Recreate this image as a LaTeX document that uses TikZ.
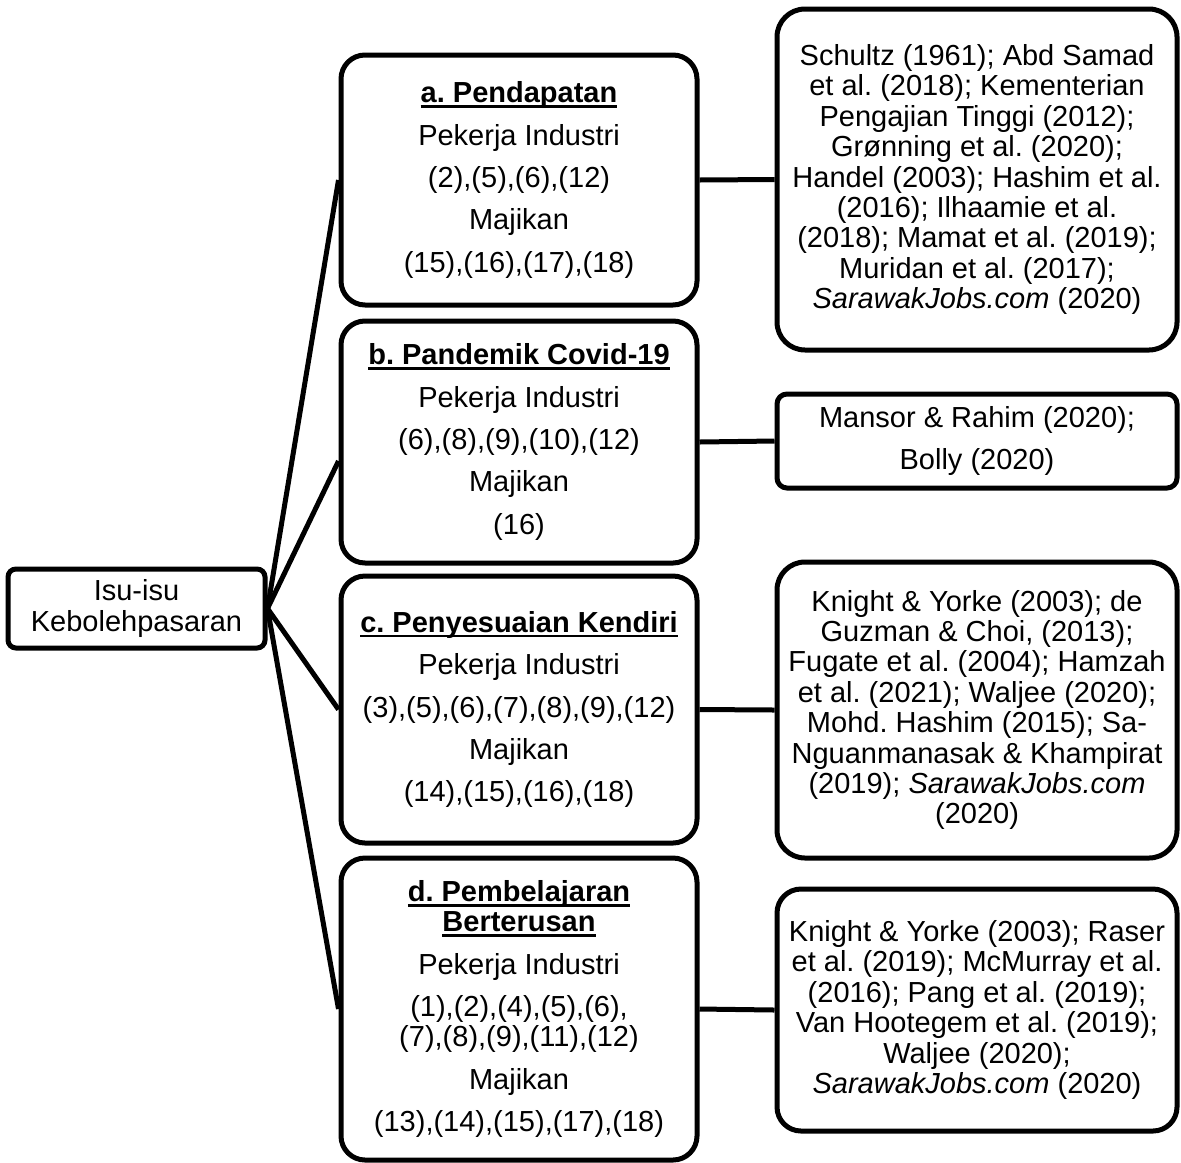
\documentclass[tikz,border=0pt]{standalone}
\usepackage{fontspec}
\setmainfont{Liberation Sans}
\frenchspacing
% bold heading with a heavy underline
\newcommand{\hdrule}[1]{\setbox0\hbox{\textbf{#1}}\rlap{\rule[-2.6pt]{\wd0}{1.3pt}}\box0}
\begin{document}
\begin{tikzpicture}[x=0.5pt,y=-0.5pt,
  box/.style={draw, line width=2.5pt, align=center, inner sep=0pt,
    font=\fontsize{14.5}{15.2}\selectfont},
  topic/.style={box, rounded corners=12pt, minimum width=178pt},
  source/.style={box, rounded corners=14pt, minimum width=200pt},
  link/.style={line width=2.5pt}]
\useasboundingbox (0,0) rectangle (1181,1162);

% root
\node[box, rounded corners=4pt, minimum width=128.5pt, minimum height=39.5pt]
  (root) at (136.5,608.5) {Isu-isu\\Kebolehpasaran};

% issues
\node[topic, minimum height=125pt] (a) at (519,180)
  {\hdrule{a. Pendapatan}\\[6pt]Pekerja Industri\\[6pt](2),(5),(6),(12)\\[6pt]Majikan\\[6pt](15),(16),(17),(18)};
\node[topic, minimum height=121pt] (b) at (519,442)
  {\hdrule{b. Pandemik Covid-19}\\[6pt]Pekerja Industri\\[6pt](6),(8),(9),(10),(12)\\[6pt]Majikan\\[6pt](16)};
\node[topic, minimum height=133.5pt] (c) at (519,709.5)
  {\hdrule{c. Penyesuaian Kendiri}\\[6pt]Pekerja Industri\\[6pt](3),(5),(6),(7),(8),(9),(12)\\[6pt]Majikan\\[6pt](14),(15),(16),(18)};
\node[topic, minimum height=151pt] (d) at (519,1009)
  {\hdrule{d. Pembelajaran}\\\hdrule{Berterusan}\\[6pt]Pekerja Industri\\[6pt](1),(2),(4),(5),(6),\\(7),(8),(9),(11),(12)\\[6pt]Majikan\\[6pt](13),(14),(15),(17),(18)};

% references
\node[source, minimum height=170.5pt] (ra) at (977,179.5)
  {Schultz (1961); Abd Samad\\et al. (2018); Kementerian\\Pengajian Tinggi (2012);\\Grønning et al. (2020);\\Handel (2003); Hashim et al.\\(2016); Ilhaamie et al.\\(2018); Mamat et al. (2019);\\Muridan et al. (2017);\\\textit{SarawakJobs.com} (2020)};
\node[source, rounded corners=5pt, minimum height=47pt] (rb) at (977,441)
  {Mansor \& Rahim (2020);\\[6pt]Bolly (2020)};
\node[source, minimum height=148pt] (rc) at (977,710)
  {Knight \& Yorke (2003); de\\Guzman \& Choi, (2013);\\Fugate et al. (2004); Hamzah\\et al. (2021); Waljee (2020);\\Mohd. Hashim (2015); Sa-\\Nguanmanasak \& Khampirat\\(2019); \textit{SarawakJobs.com}\\(2020)};
\node[source, rounded corners=12pt, minimum height=121pt] (rd) at (977,1010)
  {Knight \& Yorke (2003); Raser\\et al. (2019); McMurray et al.\\(2016); Pang et al. (2019);\\Van Hootegem et al. (2019);\\Waljee (2020);\\\textit{SarawakJobs.com} (2020)};

% connectors
\draw[link] (root.east) -- (a.west);
\draw[link] (root.east) -- ([yshift=-9.5pt]b.west);
\draw[link] (root.east) -- (c.west);
\draw[link] (root.east) -- (d.west);
\draw[link] (a.east) -- (ra.west);
\draw[link] (b.east) -- (rb.west);
\draw[link] (c.east) -- (rc.west);
\draw[link] (d.east) -- (rd.west);
\end{tikzpicture}
\end{document}
